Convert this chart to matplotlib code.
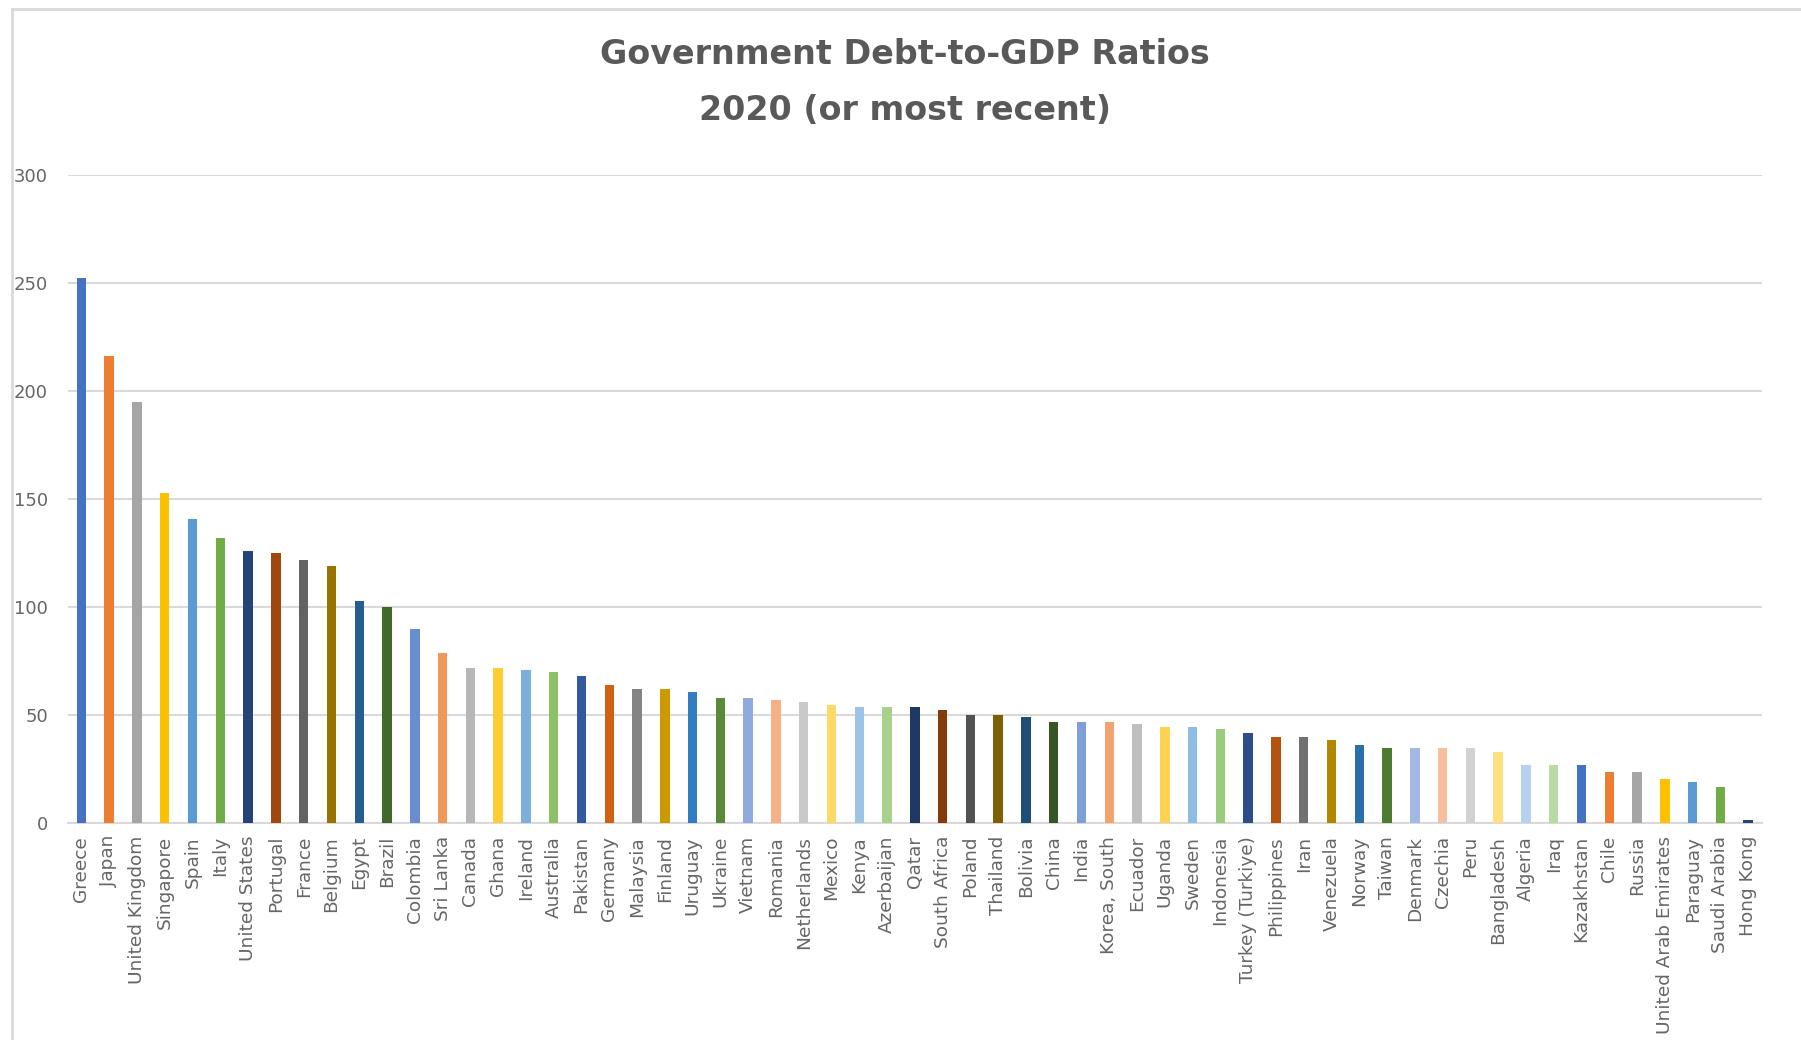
import matplotlib
matplotlib.use("Agg")
import matplotlib.pyplot as plt
from matplotlib.lines import Line2D

# countries, sorted by ratio
countries = ["Greece", "Japan", "United Kingdom", "Singapore", "Spain", "Italy",
             "United States", "Portugal", "France", "Belgium", "Egypt", "Brazil",
             "Colombia", "Sri Lanka", "Canada", "Ghana", "Ireland", "Australia",
             "Pakistan", "Germany", "Malaysia", "Finland", "Uruguay", "Ukraine",
             "Vietnam", "Romania", "Netherlands", "Mexico", "Kenya", "Azerbaijan",
             "Qatar", "South Africa", "Poland", "Thailand", "Bolivia", "China",
             "India", "Korea, South", "Ecuador", "Uganda", "Sweden", "Indonesia",
             "Turkey (Turkiye)", "Philippines", "Iran", "Venezuela", "Norway", "Taiwan",
             "Denmark", "Czechia", "Peru", "Bangladesh", "Algeria", "Iraq",
             "Kazakhstan", "Chile", "Russia", "United Arab Emirates", "Paraguay",
             "Saudi Arabia", "Hong Kong"]

debt_ratio = [252, 216, 195, 153, 141, 132,
              126, 125, 122, 119, 103, 100,
              90, 79, 72, 72, 71, 70,
              68, 64, 62, 62, 61, 58,
              58, 57, 56, 55, 54, 54,
              54, 52.5, 50, 50, 49, 47,
              47, 47, 46, 44.5, 44.5, 43.5,
              42, 40, 40, 38.5, 36.5, 35,
              35, 35, 35, 33, 27, 27,
              27, 24, 24, 20.5, 19, 17, 1.5]

# excel "vary colors by point" palette
palette = ["#4472C4", "#ED7D31", "#A5A5A5", "#FFC000", "#5B9BD5", "#70AD47",
           "#264478", "#9E480E", "#636363", "#997300", "#255E91", "#43682B",
           "#698ED0", "#F1975A", "#B7B7B7", "#FFCD33", "#7CAFDD", "#8CC168",
           "#335AA1", "#D26012", "#848484", "#CC9A00", "#327DC2", "#5A8A39",
           "#8FAADC", "#F4B183", "#C9C9C9", "#FFD966", "#9DC3E6", "#A9D18E",
           "#203864", "#843C0C", "#525252", "#7F6000", "#1F4E79", "#375623",
           "#7F9FD9", "#F3A36F", "#BFBFBF", "#FFD34F", "#8FBCE2", "#9BCB7B",
           "#2C4C8C", "#B4530F", "#717171", "#B38600", "#2A6EAE", "#4E7A32",
           "#A2B9E4", "#F6C09F", "#D2D2D2", "#FFE07F", "#B4D2EE", "#B9DAA3"]
colors = [palette[i % len(palette)] for i in range(len(countries))]

text_gray = "#595959"
grid_gray = "#D9D9D9"

fig = plt.figure(figsize=(18.01, 10.40), dpi=100)
ax = fig.add_axes([0.0375, 0.2082, 0.9409, 0.6239])

x = range(len(countries))
ax.bar(x, debt_ratio, width=0.34, color=colors, zorder=3)

ax.set_xlim(-0.5, len(countries) - 0.5)
ax.set_ylim(0, 300)
ax.set_yticks(range(0, 301, 50))
ax.yaxis.grid(True, color=grid_gray, linewidth=1.5, zorder=0)
ax.set_xticks(list(x))
ax.set_xticklabels(countries, rotation=90, fontsize=13.3, color="#666666")
ax.tick_params(axis="x", length=0, pad=9)
ax.tick_params(axis="y", length=0, pad=14, labelsize=13, labelcolor="#666666")

for s in ["top", "right", "left"]:
    ax.spines[s].set_visible(False)
ax.spines["bottom"].set_color(grid_gray)
ax.spines["bottom"].set_linewidth(1.5)

title_font = dict(family=["Liberation Sans Narrow", "DejaVu Sans"], weight="bold",
                  size=24, color=text_gray, ha="center", va="center")
fig.text(0.5025, 1 - 55 / 1040, "Government Debt-to-GDP Ratios", **title_font)
fig.text(0.5025, 1 - 111 / 1040, "2020 (or most recent)", **title_font)

# chart area border (only top and left visible)
fig.add_artist(Line2D([12 / 1801, 1], [1 - 9 / 1040, 1 - 9 / 1040],
                      transform=fig.transFigure, color=grid_gray, linewidth=2))
fig.add_artist(Line2D([12 / 1801, 12 / 1801], [0, 1 - 9 / 1040],
                      transform=fig.transFigure, color=grid_gray, linewidth=2))

fig.savefig("out.png", dpi=100)
